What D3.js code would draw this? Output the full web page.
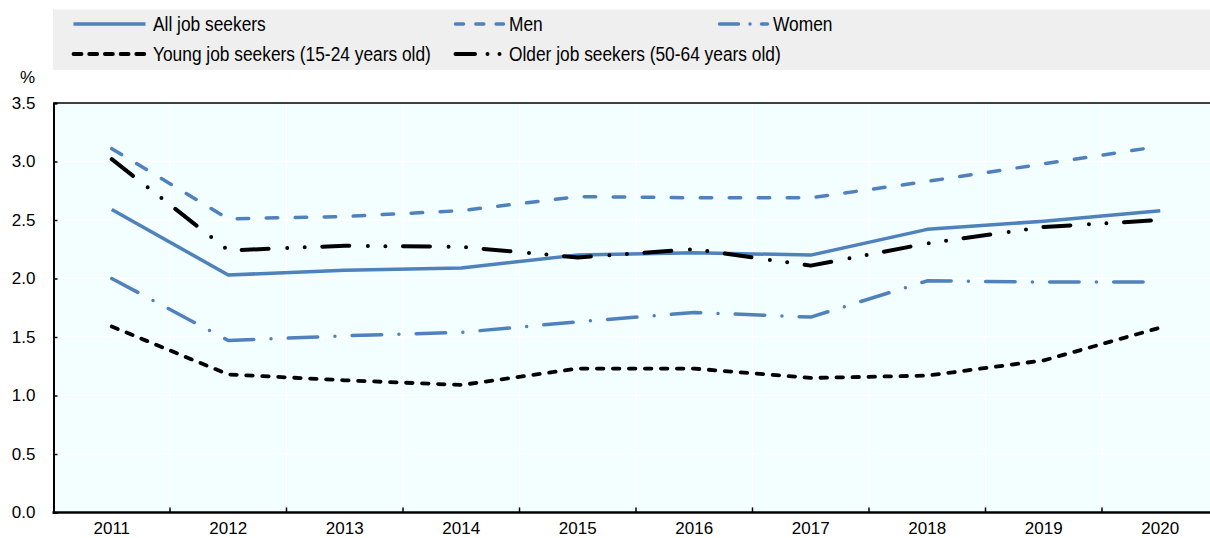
<!DOCTYPE html>
<html>
<head>
<meta charset="utf-8">
<script src="https://cdn.jsdelivr.net/npm/d3@7"></script>
<style>
    body { margin: 0; background: #fff; }
    text { font-family: "Liberation Sans", Arial, sans-serif; }
</style>
</head>
<body>
<svg id="chart" width="1210" height="538"></svg>
<script>
// data
var years = ["2011", "2012", "2013", "2014", "2015", "2016", "2017", "2018", "2019", "2020"];
var allSeekers = [2.59, 2.03, 2.07, 2.09, 2.20, 2.22, 2.20, 2.42, 2.49, 2.58];
var men = [3.11, 2.51, 2.53, 2.58, 2.70, 2.69, 2.69, 2.83, 2.98, 3.13];
var women = [2.00, 1.47, 1.51, 1.54, 1.63, 1.71, 1.67, 1.98, 1.97, 1.97];
var young = [1.59, 1.18, 1.13, 1.09, 1.23, 1.23, 1.15, 1.17, 1.30, 1.58];
var older = [3.02, 2.24, 2.28, 2.27, 2.18, 2.25, 2.11, 2.30, 2.44, 2.50];
var yTicks = [0, 0.5, 1.0, 1.5, 2.0, 2.5, 3.0, 3.5];
var seriesNames = ["All job seekers", "Men", "Women", "Young job seekers (15-24 years old)", "Older job seekers (50-64 years old)"];

var blue = "#4f81bd";
var series = [
    {name: seriesNames[0], values: allSeekers, color: blue, width: 3.5, dash: null, legDash: null},
    {name: seriesNames[1], values: men, color: blue, width: 3.5, dash: "11.5,17.5", legDash: "8,12.3"},
    {name: seriesNames[2], values: women, color: blue, width: 3.5, dash: "29.5,17.25,0,17.25", legDash: "19,11.5,0,11.5"},
    {name: seriesNames[3], values: young, color: "#000", width: 3.8, dash: "6.5,9.5", legDash: "8,7.7"},
    {name: seriesNames[4], values: older, color: "#000", width: 4, dash: "27,18.6,0,17.5,0,17.6", legDash: "19.5,12.5,0,12,0,20"}
];

var svg = d3.select("#chart");
var plotLeft = 53.5, plotTop = 103, plotBottom = 512.5;

var x = d3.scaleBand().domain(years).range([plotLeft, plotLeft + 10 * 116.5]);
var y = d3.scaleLinear().domain([0, 3.5]).range([plotBottom, plotTop]);

// legend box
var legend = svg.append("g");
legend.append("rect")
    .attr("x", 53)
    .attr("y", 9.5)
    .attr("width", 1170)
    .attr("height", 60.5)
    .attr("fill", "#efefef");

var legPos = [
    {x1: 73.5, x2: 145.5, tx: 153, row: 0},
    {x1: 455.5, x2: 503.5, tx: 509, row: 0},
    {x1: 719.5, x2: 767.5, tx: 773, row: 0},
    {x1: 73.5, x2: 145.5, tx: 153, row: 1},
    {x1: 455.5, x2: 500, tx: 509, row: 1}
];
series.forEach(function (s, i) {
    var p = legPos[i];
    var ly = 24 + p.row * 30;
    legend.append("line")
        .attr("x1", p.x1)
        .attr("x2", p.x2)
        .attr("y1", ly)
        .attr("y2", ly)
        .attr("stroke", s.color)
        .attr("stroke-width", s.width)
        .attr("stroke-linecap", s.dash ? "round" : "butt")
        .attr("stroke-dasharray", s.legDash);
    legend.append("text")
        .attr("transform", "translate(" + p.tx + "," + (ly + 7) + ") scale(0.89,1)")
        .style("font-size", "19.5px")
        .attr("fill", "#000")
        .text(s.name);
});

// plot background
svg.append("rect")
    .attr("x", plotLeft)
    .attr("y", plotTop)
    .attr("width", x.range()[1] - plotLeft)
    .attr("height", plotBottom - plotTop)
    .attr("fill", "#f2feff");

// grid
svg.append("g")
    .selectAll("line")
    .data(yTicks.slice(1, -1))
    .enter()
    .append("line")
    .attr("x1", plotLeft)
    .attr("x2", x.range()[1])
    .attr("y1", function (d) { return y(d); })
    .attr("y2", function (d) { return y(d); })
    .attr("stroke", "#fff")
    .attr("stroke-width", 1.5);
svg.append("g")
    .selectAll("line")
    .data(years.slice(1))
    .enter()
    .append("line")
    .attr("x1", function (d) { return x(d); })
    .attr("x2", function (d) { return x(d); })
    .attr("y1", plotTop)
    .attr("y2", plotBottom)
    .attr("stroke", "#fff")
    .attr("stroke-width", 1.5);

// lines
var line = d3.line()
    .x(function (d, i) { return x(years[i]) + x.bandwidth() / 2; })
    .y(function (d) { return y(d); });

svg.append("g")
    .selectAll("path")
    .data(series)
    .enter()
    .append("path")
    .attr("d", function (d) { return line(d.values); })
    .attr("fill", "none")
    .attr("stroke", function (d) { return d.color; })
    .attr("stroke-width", function (d) { return d.width; })
    .attr("stroke-linecap", function (d) { return d.dash ? "round" : "butt"; })
    .attr("stroke-linejoin", "round")
    .attr("stroke-dasharray", function (d) { return d.dash; });

// frame: top line
svg.append("line")
    .attr("x1", plotLeft)
    .attr("x2", 1210)
    .attr("y1", plotTop)
    .attr("y2", plotTop)
    .attr("stroke", "#000")
    .attr("stroke-width", 1.5);

// y axis
var yAxis = svg.append("g")
    .attr("transform", "translate(" + plotLeft + ",0)")
    .call(d3.axisLeft(y).tickValues(yTicks).tickFormat(d3.format(".1f")).tickSize(-4).tickPadding(18));
yAxis.select(".domain").attr("stroke", "#000").attr("stroke-width", 2);
yAxis.selectAll(".tick line").attr("stroke", "#000").attr("stroke-width", 1.5);
yAxis.selectAll("text")
    .style("font-size", "17px")
    .style("font-family", "'Liberation Sans', Arial, sans-serif")
    .attr("fill", "#000");

svg.append("text")
    .attr("x", 35)
    .attr("y", 83)
    .attr("text-anchor", "end")
    .style("font-size", "17px")
    .text("%");

// x axis
var xAxis = svg.append("g")
    .attr("transform", "translate(0," + plotBottom + ")")
    .call(d3.axisBottom(x).tickSize(0).tickPadding(9));
xAxis.select(".domain").remove();
xAxis.selectAll("text")
    .style("font-size", "17px")
    .style("font-family", "'Liberation Sans', Arial, sans-serif")
    .attr("fill", "#000");
svg.append("g")
    .selectAll("line")
    .data(years.slice(1))
    .enter()
    .append("line")
    .attr("x1", function (d) { return x(d); })
    .attr("x2", function (d) { return x(d); })
    .attr("y1", plotBottom)
    .attr("y2", plotBottom - 5)
    .attr("stroke", "#000")
    .attr("stroke-width", 1.5);
svg.append("line")
    .attr("x1", plotLeft - 1)
    .attr("x2", 1210)
    .attr("y1", plotBottom)
    .attr("y2", plotBottom)
    .attr("stroke", "#000")
    .attr("stroke-width", 2.5);
</script>
</body>
</html>
